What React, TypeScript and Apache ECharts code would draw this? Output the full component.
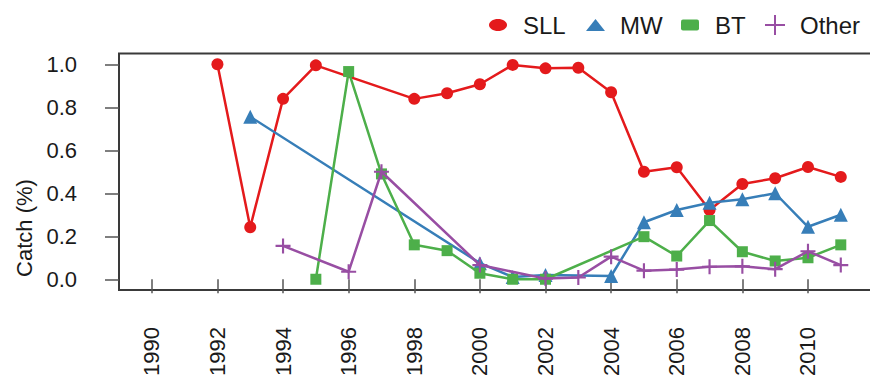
import React, { useEffect, useRef } from "react";
import * as echarts from "echarts";

// ---- data ----
const yearsSLL = [1992, 1993, 1994, 1995, 1998, 1999, 2000, 2001, 2002, 2003, 2004, 2005, 2006, 2007, 2008, 2009, 2010, 2011];
const valuesSLL = [1.0, 0.242, 0.839, 0.995, 0.839, 0.865, 0.907, 0.997, 0.981, 0.984, 0.87, 0.5, 0.521, 0.322, 0.443, 0.47, 0.522, 0.476];

const yearsMW = [1993, 2000, 2001, 2002, 2004, 2005, 2006, 2007, 2008, 2009, 2010, 2011];
const valuesMW = [0.756, 0.075, 0.01, 0.02, 0.015, 0.265, 0.322, 0.356, 0.372, 0.4, 0.244, 0.3];

const yearsBT = [1995, 1996, 1997, 1998, 1999, 2000, 2001, 2002, 2005, 2006, 2007, 2008, 2009, 2010, 2011];
const valuesBT = [0.0, 0.966, 0.49, 0.16, 0.133, 0.028, 0.0, 0.0, 0.198, 0.108, 0.273, 0.128, 0.085, 0.1, 0.16];

const yearsOther = [1994, 1996, 1997, 2000, 2002, 2003, 2004, 2005, 2006, 2007, 2008, 2009, 2010, 2011];
const valuesOther = [0.155, 0.035, 0.5, 0.066, 0.003, 0.008, 0.105, 0.04, 0.045, 0.058, 0.06, 0.047, 0.13, 0.066];

const xTicks = [1990, 1992, 1994, 1996, 1998, 2000, 2002, 2004, 2006, 2008, 2010];
const yTicks = [0, 0.2, 0.4, 0.6, 0.8, 1.0];

const seriesNames = ["SLL", "MW", "BT", "Other"];
const colors = ["#E41A1C", "#377EB8", "#4DAF4A", "#984EA3"];

const PLUS = "path://M0,6H14V8H0Z M6,0H8V14H6Z";

const pairs = (xs: number[], ys: number[]) => xs.map((x, i) => [x, ys[i]]);

export default function App() {
  const ref = useRef<HTMLDivElement>(null);

  useEffect(() => {
    if (!ref.current) return;
    const chart = echarts.init(ref.current, null, { renderer: "svg" });
    const font = "'Liberation Sans', Arial, Helvetica, sans-serif";
    const textColor = "#1a1a1a";
    const symbols = ["circle", "triangle", "rect", PLUS];
    const sizes = [12, 14, 11, 15];
    const datas = [
      pairs(yearsSLL, valuesSLL),
      pairs(yearsMW, valuesMW),
      pairs(yearsBT, valuesBT),
      pairs(yearsOther, valuesOther),
    ];

    const legendY = 25;
    const legendTextX = [523, 620, 715, 800];
    const legendGraphics: any[] = [];
    legendGraphics.push({
      type: "ellipse",
      shape: { cx: 498, cy: legendY, rx: 9, ry: 6 },
      style: { fill: colors[0] },
    });
    legendGraphics.push({
      type: "polygon",
      shape: { points: [[586, legendY + 6], [605, legendY + 6], [595.5, legendY - 6]] },
      style: { fill: colors[1] },
    });
    legendGraphics.push({
      type: "rect",
      shape: { x: 681, y: legendY - 5.5, width: 18, height: 11, r: 2 },
      style: { fill: colors[2] },
    });
    legendGraphics.push({
      type: "line",
      shape: { x1: 765, y1: legendY, x2: 785, y2: legendY },
      style: { stroke: colors[3], lineWidth: 2 },
    });
    legendGraphics.push({
      type: "line",
      shape: { x1: 775, y1: legendY - 10, x2: 775, y2: legendY + 10 },
      style: { stroke: colors[3], lineWidth: 2 },
    });
    seriesNames.forEach((n, i) => {
      legendGraphics.push({
        type: "text",
        x: legendTextX[i],
        y: legendY,
        style: {
          text: n,
          fill: textColor,
          font: `24px ${font}`,
          textAlign: "left",
          textVerticalAlign: "middle",
        },
      });
    });

    chart.setOption({
      animation: false,
      backgroundColor: "#ffffff",
      grid: {
        left: 119,
        top: 53.5,
        width: 771,
        height: 236.5,
        outerBoundsMode: "none",
        containLabel: false,
        show: true,
        borderColor: "#3a3a3a",
        borderWidth: 2,
        backgroundColor: "transparent",
      },
      xAxis: {
        type: "value",
        min: 1989,
        max: 2012.5,
        splitLine: { show: false },
        axisLine: { show: false },
        axisTick: {
          show: true,
          length: 14,
          lineStyle: { color: "#555", width: 1.5 },
          customValues: xTicks,
        },
        axisLabel: {
          show: true,
          rotate: 90,
          margin: 37,
          fontSize: 22,
          fontFamily: font,
          color: textColor,
          customValues: xTicks,
          formatter: (v: number) => String(v),
        },
      },
      yAxis: {
        type: "value",
        min: -0.05,
        max: 1.05,
        splitLine: { show: false },
        axisLine: { show: false },
        axisTick: {
          show: true,
          length: 14,
          lineStyle: { color: "#555", width: 1.5 },
          customValues: yTicks,
        },
        axisLabel: {
          show: true,
          margin: 42,
          fontSize: 22,
          fontFamily: font,
          color: textColor,
          customValues: yTicks,
          formatter: (v: number) => v.toFixed(1),
        },
      },
      graphic: [
        {
          type: "text",
          x: 24,
          y: 228,
          rotation: Math.PI / 2,
          style: {
            text: "Catch (%)",
            fill: textColor,
            font: `22px ${font}`,
            textAlign: "center",
            textVerticalAlign: "middle",
          },
        },
        ...legendGraphics,
      ],
      series: seriesNames.map((name, i) => ({
        name,
        type: "line",
        data: datas[i],
        symbol: symbols[i],
        symbolSize: sizes[i],
        showAllSymbol: true,
        lineStyle: { color: colors[i], width: 2.5 },
        itemStyle: { color: colors[i] },
        emphasis: { disabled: true },
        z: 2 + i,
      })),
    });

    return () => chart.dispose();
  }, []);

  return (
    <div
      ref={ref}
      style={{ position: "absolute", left: 0, top: 0, width: 870, height: 380 }}
    />
  );
}
